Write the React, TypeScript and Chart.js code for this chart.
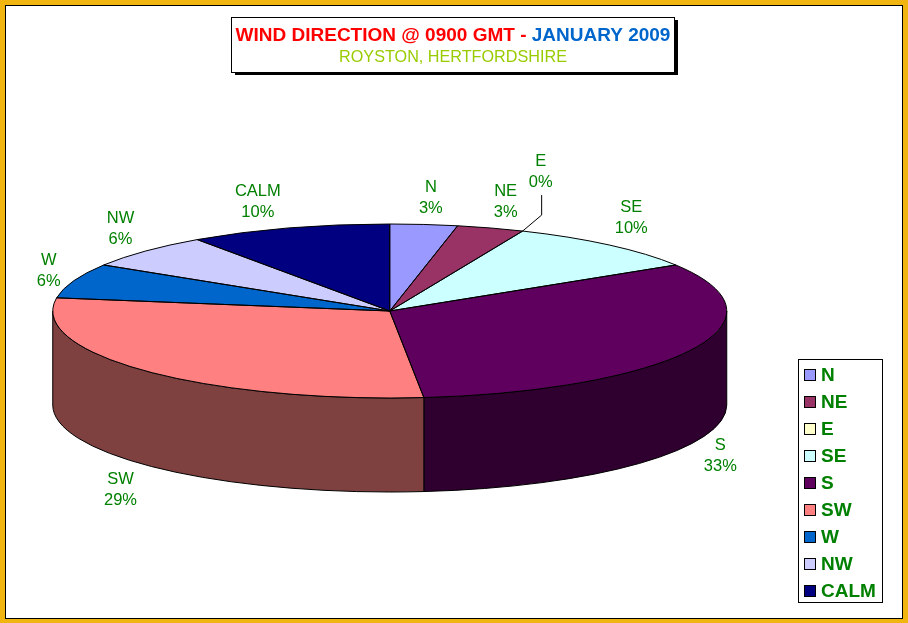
import React, { useEffect, useRef } from "react";
import { Chart, registerables } from "chart.js";

Chart.register(...registerables);

const categories = ["N", "NE", "E", "SE", "S", "SW", "W", "NW", "CALM"];
const dayCounts = [1, 1, 0, 3, 10, 9, 2, 2, 3];
const percentLabels = ["3%", "3%", "0%", "10%", "33%", "29%", "6%", "6%", "10%"];
const sliceColors = ["#9999FF", "#993366", "#FFFFCC", "#CCFFFF", "#5F005F", "#FF8080", "#0066CC", "#CCCCFF", "#000080"];
const labelNudges: [number, number][] = [[7, -28], [15, -27.5], [18, -60.5], [22, -28.5], [28, 11], [-25, 23.5], [-25, -11.5], [-25, -23.5], [-31, -27.5]];

const FONT = '"Liberation Sans", Arial, sans-serif';
const GREEN = "#008000";
const SQUASH = 87 / 337;
const DEPTH = 94;

const darken = (hex: string) => {
  const n = parseInt(hex.slice(1), 16);
  const h = (v: number) => Math.floor(v / 2).toString(16).padStart(2, "0");
  return "#" + h((n >> 16) & 255) + h((n >> 8) & 255) + h(n & 255);
};

const arcs = (chart: any) =>
  chart.getDatasetMeta(0).data.map((el: any) => el.getProps(["x", "y", "startAngle", "endAngle", "outerRadius"], true));

const pie3d = {
  id: "pie3d",
  beforeDraw(chart: any) {
    const { ctx, width, height } = chart;
    ctx.save();
    ctx.fillStyle = "#F0B510";
    ctx.fillRect(0, 0, width, height);
    ctx.fillStyle = "#000000";
    ctx.fillRect(5, 5, width - 10, height - 9);
    ctx.fillStyle = "#FFFFFF";
    ctx.fillRect(6, 6, width - 12, height - 11);
    ctx.restore();
  },
  beforeDatasetsDraw(chart: any) {
    const { ctx } = chart;
    const list = arcs(chart);
    ctx.save();
    ctx.lineWidth = 1;
    ctx.strokeStyle = "#000000";
    const walls = list
      .map((a: any, i: number) => ({ a, i }))
      .sort((p: any, q: any) => Math.abs(Math.PI / 2 - (q.a.startAngle + q.a.endAngle) / 2) - Math.abs(Math.PI / 2 - (p.a.startAngle + p.a.endAngle) / 2));
    walls.forEach(({ a, i }: any) => {
      const s = Math.max(a.startAngle, 0);
      const e = Math.min(a.endAngle, Math.PI);
      if (e <= s) return;
      const ry = a.outerRadius * SQUASH;
      ctx.beginPath();
      ctx.ellipse(a.x, a.y, a.outerRadius, ry, 0, s, e);
      ctx.ellipse(a.x, a.y + DEPTH, a.outerRadius, ry, 0, e, s, true);
      ctx.closePath();
      ctx.fillStyle = darken(sliceColors[i]);
      ctx.fill();
      ctx.stroke();
    });
    ctx.restore();
    const first = list[0];
    ctx.save();
    ctx.translate(first.x, first.y);
    ctx.scale(1, SQUASH);
    ctx.translate(-first.x, -first.y);
  },
  afterDatasetsDraw(chart: any) {
    const { ctx } = chart;
    ctx.restore();
    const list = arcs(chart);
    ctx.save();
    ctx.lineWidth = 1;
    ctx.strokeStyle = "#000000";
    list.forEach((a: any) => {
      if (a.endAngle - a.startAngle <= 0) return;
      ctx.beginPath();
      ctx.ellipse(a.x, a.y, a.outerRadius, a.outerRadius * SQUASH, 0, a.startAngle, a.endAngle);
      ctx.lineTo(a.x, a.y);
      ctx.closePath();
      ctx.stroke();
    });

    // data labels, anchored to each slice's rim
    ctx.fillStyle = GREEN;
    ctx.textAlign = "center";
    ctx.textBaseline = "alphabetic";
    ctx.font = `16.5px ${FONT}`;
    list.forEach((a: any, i: number) => {
      const mid = (a.startAngle + a.endAngle) / 2;
      const rimX = a.x + a.outerRadius * Math.cos(mid);
      const rimY = a.y + a.outerRadius * SQUASH * Math.sin(mid) + (Math.sin(mid) > 0 ? DEPTH : 0);
      const x = rimX + labelNudges[i][0];
      const y = rimY + labelNudges[i][1];
      ctx.fillText(categories[i], x, y - 4.5);
      ctx.fillText(percentLabels[i], x, y + 16.5);
      if (a.endAngle - a.startAngle <= 0) {
        ctx.beginPath();
        ctx.moveTo(x + 1, y + 24.5);
        ctx.lineTo(x + 1, y + 44.5);
        ctx.lineTo(rimX, rimY);
        ctx.stroke();
      }
    });

    // title box
    ctx.fillStyle = "#000000";
    ctx.fillRect(235, 20, 443, 55);
    ctx.fillStyle = "#FFFFFF";
    ctx.fillRect(232, 18, 442, 54);
    ctx.strokeRect(231.5, 17.5, 443, 55);
    ctx.textAlign = "left";
    ctx.font = `bold 19px ${FONT}`;
    const parts: [string, string][] = [["WIND DIRECTION @ 0900 GMT - ", "#FF0000"], ["JANUARY 2009", "#0066CC"]];
    const total = parts.reduce((w, p) => w + ctx.measureText(p[0]).width, 0);
    let tx = 453 - total / 2;
    parts.forEach(([t, c]) => {
      ctx.fillStyle = c;
      ctx.fillText(t, tx, 41);
      tx += ctx.measureText(t).width;
    });
    ctx.textAlign = "center";
    ctx.fillStyle = "#99CC00";
    ctx.font = `16.2px ${FONT}`;
    ctx.fillText("ROYSTON, HERTFORDSHIRE", 453, 62);

    // legend
    ctx.fillStyle = "#FFFFFF";
    ctx.fillRect(798, 359, 85, 244);
    ctx.strokeRect(798.5, 359.5, 84, 243);
    ctx.textAlign = "left";
    ctx.font = `bold 19px ${FONT}`;
    categories.forEach((c, i) => {
      const y = 369 + i * 27;
      ctx.fillStyle = sliceColors[i];
      ctx.fillRect(804, y, 12, 12);
      ctx.strokeRect(804.5, y + 0.5, 11, 11);
      ctx.fillStyle = GREEN;
      ctx.fillText(c, 821, y + 12);
    });
    ctx.restore();
  },
};

export default function App() {
  const ref = useRef<HTMLCanvasElement>(null);
  useEffect(() => {
    const chart = new Chart(ref.current!, {
      type: "pie",
      data: {
        labels: categories,
        datasets: [{ data: dayCounts, backgroundColor: sliceColors, borderWidth: 0, clip: false } as any],
      },
      options: {
        animation: false,
        responsive: false,
        devicePixelRatio: 1,
        radius: 337,
        layout: { padding: { left: 0, right: 128.5, top: 0, bottom: 1 } },
        plugins: { legend: { display: false }, title: { display: false }, tooltip: { enabled: false } },
        events: [],
      } as any,
      plugins: [pie3d],
    });
    return () => chart.destroy();
  }, []);
  return (
    <div style={{ position: "fixed", left: 0, top: 0, width: 908, height: 623 }}>
      <canvas ref={ref} width={908} height={623} style={{ display: "block" }} />
    </div>
  );
}
